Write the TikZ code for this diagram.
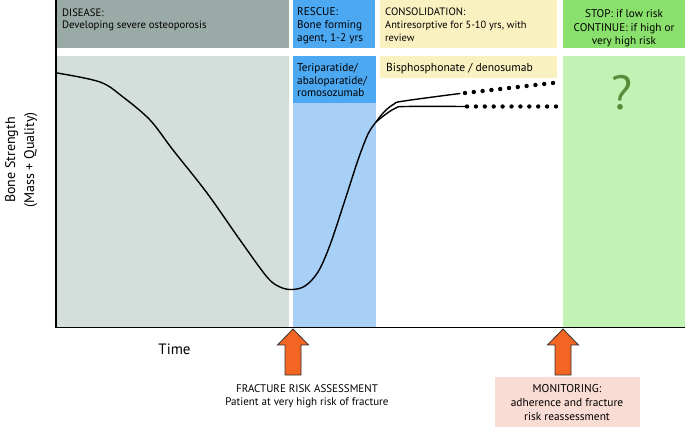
\documentclass[tikz,border=0pt]{standalone}
\usepackage{fontspec}
\setmainfont{PT Sans}
\definecolor{disH}{HTML}{9AABA7}
\definecolor{disB}{HTML}{D4DFDC}
\definecolor{resH}{HTML}{4DA8F2}
\definecolor{resB}{HTML}{A8D0F6}
\definecolor{conC}{HTML}{FAF1C0}
\definecolor{stpH}{HTML}{8AE06C}
\definecolor{stpB}{HTML}{C2F2B4}
\definecolor{qmark}{HTML}{5B8C3C}
\definecolor{arrC}{HTML}{F26522}
\definecolor{pinkC}{HTML}{F9DCD3}
\begin{document}
\begin{tikzpicture}[x=1pt,y=-1pt,
  lbl/.style={anchor=base west,inner sep=0,font=\fontsize{10.7}{12}\selectfont},
  lblc/.style={anchor=base,inner sep=0,font=\fontsize{11}{13}\selectfont},
  orangearrow/.style={fill=arrC,draw=black!80,line width=0.8pt,line join=miter},
  curve/.style={line width=1.4pt,line cap=round},
  dot/.style={fill=black,draw=none}]
\useasboundingbox (0,0) rectangle (685,427);
% regions
\fill[disH] (57,0) rectangle (289,48);
\fill[disB] (57,56) rectangle (289,327);
\fill[resH] (293,0) rectangle (375,48);
\fill[resB] (293,56) rectangle (376,327);
\fill[resH] (293,56) rectangle (376,103);
\fill[conC] (380,0) rectangle (557,48);
\fill[conC] (380,56) rectangle (557,78);
\fill[stpH] (563,0) rectangle (685,48);
\fill[stpB] (563,56) rectangle (685,327);
\fill[pinkC] (495,377) rectangle (640,427);
% axes
\draw[line width=1.3pt] (56,0) -- (56,327.5) -- (685,327.5);
% texts
\node[lbl] (t1) at (62,17) {DISEASE:};
\node[lbl] (t2) at (62,29) {Developing severe osteoporosis};
\node[lbl,font=\fontsize{11.2}{13}\selectfont] (r1) at (297,16) {RESCUE:};
\node[lbl,font=\fontsize{11.2}{13}\selectfont] (r2) at (297,29) {Bone forming};
\node[lbl,font=\fontsize{11.2}{13}\selectfont] (r3) at (297,42) {agent, 1-2 yrs};
\node[lbl,font=\fontsize{11.2}{13}\selectfont] (d1) at (297,72) {Teriparatide/};
\node[lbl,font=\fontsize{11.2}{13}\selectfont] (d2) at (297,85) {abaloparatide/};
\node[lbl,font=\fontsize{11.2}{13}\selectfont] (d3) at (297,97) {romosozumab};
\node[lbl] (c1) at (385,16) {CONSOLIDATION:};
\node[lbl,font=\fontsize{10.4}{12}\selectfont] (c2) at (385,29) {Antiresorptive for 5-10 yrs, with};
\node[lbl,font=\fontsize{10.4}{12}\selectfont] (c3) at (385,42) {review};
\node[lbl,font=\fontsize{11.6}{13}\selectfont] (b1) at (386,72) {Bisphosphonate / denosumab};
\node[lblc,font=\fontsize{11.2}{13}\selectfont] (s1) at (624,18) {STOP: if low risk};
\node[lblc,font=\fontsize{11.2}{13}\selectfont] (s2) at (624,31.5) {CONTINUE: if high or};
\node[lblc,font=\fontsize{11.2}{13}\selectfont] (s3) at (624,45) {very high risk};
\node[anchor=base,inner sep=0,text=qmark,font=\fontsize{48}{48}\selectfont] (q) at (622,110) {?};
\node[anchor=base,inner sep=0,rotate=90,font=\fontsize{14}{16}\selectfont] (y1) at (15,160) {Bone Strength};
\node[anchor=base,inner sep=0,rotate=90,font=\fontsize{14}{16}\selectfont] (y2) at (34,160) {(Mass + Quality)};
\node[anchor=base,inner sep=0,font=\fontsize{15}{17}\selectfont] (tm) at (174.5,355) {Time};
\node[lblc] (f1) at (307,392) {FRACTURE RISK ASSESSMENT};
\node[lblc] (f2) at (307,405) {Patient at very high risk of fracture};
\node[lblc,font=\fontsize{11.4}{13}\selectfont] (m1) at (567,392) {MONITORING:};
\node[lblc,font=\fontsize{11.4}{13}\selectfont] (m2) at (567,406) {adherence and fracture};
\node[lblc,font=\fontsize{11.4}{13}\selectfont] (m3) at (567,420) {risk reassessment};
% arrows
\filldraw[orangearrow] (293,329) -- (308.5,345) -- (301,345) -- (301,375) -- (285,375) -- (285,345) -- (277.5,345) -- cycle;
\filldraw[orangearrow] (563,329) -- (578.5,345) -- (571,345) -- (571,375) -- (555,375) -- (555,345) -- (547.5,345) -- cycle;
% curve
\draw[curve] plot[smooth,tension=0.55] coordinates {(57,73) (100,82) (123,97) (150,120) (173,150) (207,193) (240,240) (267,277) (280,287) (292,289.5) (305,286) (318,272) (330,245) (345,200) (358,160) (368,134) (376,122)};
\draw[curve] plot[smooth,tension=0.6] coordinates {(376,122) (384,112) (394,104) (404,101) (460,93.5)};
\draw[curve] plot[smooth,tension=0.6] coordinates {(376,122) (386,114) (396,108) (406,106.5) (467,106.5)};
\foreach \i in {0,...,10} {
  \fill[dot] ({465+\i*8.8},{93-\i*1.0}) circle (2.2);
  \fill[dot] ({467+\i*8.9},106.5) circle (2.2);
}
\end{tikzpicture}
\end{document}
